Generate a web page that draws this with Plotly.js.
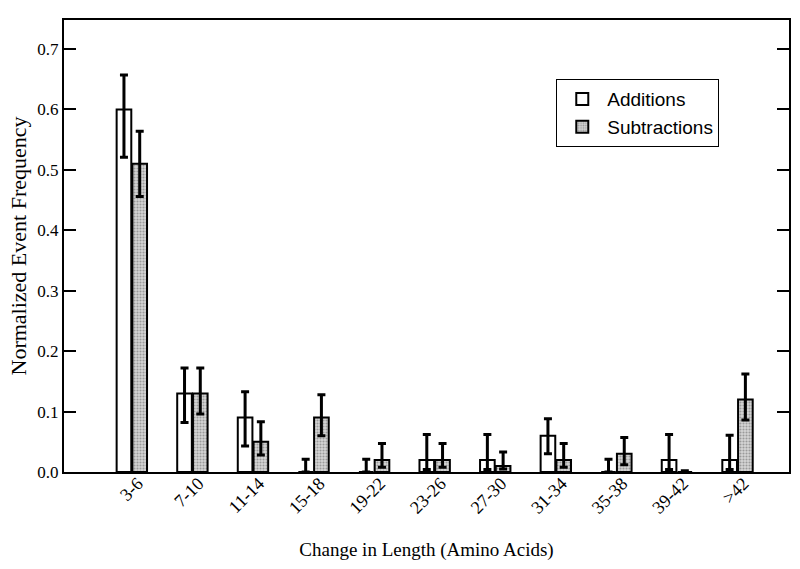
<!DOCTYPE html>
<html>
<head>
<meta charset="utf-8">
<script src="https://cdn.plot.ly/plotly-3.0.1.min.js"></script>
<style>
  html, body { margin: 0; padding: 0; background: #fff; }
  #plot { width: 800px; height: 569px; }
</style>
</head>
<body>
<div id="plot"></div>
<script>
// length change bins
const bins = ['3-6', '7-10', '11-14', '15-18', '19-22', '23-26', '27-30', '31-34', '35-38', '39-42', '>42'];

// additions
const addVals = [0.60, 0.13, 0.09, 0.0, 0.0, 0.02, 0.02, 0.06, 0.0, 0.02, 0.02];
const addErrUp = [0.057, 0.042, 0.043, 0.021, 0.021, 0.042, 0.042, 0.028, 0.021, 0.042, 0.041];
const addErrDown = [0.079, 0.048, 0.047, 0, 0, 0.016, 0.016, 0.03, 0, 0.016, 0.016];

// subtractions
const subVals = [0.51, 0.13, 0.05, 0.09, 0.02, 0.02, 0.01, 0.02, 0.03, 0.0, 0.12];
const subErrUp = [0.054, 0.042, 0.033, 0.038, 0.027, 0.027, 0.023, 0.027, 0.027, 0.002, 0.042];
const subErrDown = [0.054, 0.034, 0.022, 0.03, 0.012, 0.012, 0.005, 0.012, 0.018, 0, 0.034];

const yTicks = [0, 0.1, 0.2, 0.3, 0.4, 0.5, 0.6, 0.7];

const serif = 'Liberation Serif, Times New Roman, serif';

const errStyle = {type: 'data', symmetric: false, color: '#000', thickness: 3, width: 4};

const additions = {
    x: bins,
    y: addVals,
    name: 'Additions',
    type: 'bar',
    marker: {color: '#ffffff', line: {color: '#000', width: 2}},
    error_y: Object.assign({array: addErrUp, arrayminus: addErrDown}, errStyle)
};

const subtractions = {
    x: bins,
    y: subVals,
    name: 'Subtractions',
    type: 'bar',
    marker: {
        color: '#d4d4d4',
        line: {color: '#000', width: 2},
        pattern: {shape: '.', fgcolor: '#9a9a9a', bgcolor: '#d6d6d6', size: 3, solidity: 0.4}
    },
    error_y: Object.assign({array: subErrUp, arrayminus: subErrDown}, errStyle)
};

const layout = {
    width: 800,
    height: 569,
    margin: {l: 64, r: 11, t: 20, b: 97},
    paper_bgcolor: '#fff',
    plot_bgcolor: '#fff',
    barmode: 'group',
    bargap: 0.48,
    bargroupgap: 0.07,
    showlegend: true,
    legend: {
        x: 0.679, y: 0.869, xanchor: 'left', yanchor: 'top',
        bordercolor: '#000', borderwidth: 1, bgcolor: '#fff',
        font: {family: 'Liberation Sans, Arial, sans-serif', size: 19, color: '#000'},
        itemwidth: 40,
        tracegroupgap: 0
    },
    xaxis: {
        type: 'category',
        range: [-1.12, 10.85],
        showline: true, linecolor: '#000', linewidth: 2, mirror: true,
        ticks: '', ticklen: 0, tickangle: -45,
        ticklabelshift: 6,
        ticklabelstandoff: -8,
        tickfont: {family: serif, size: 18, color: '#000'},
        showgrid: false, zeroline: false,
        title: {text: 'Change in Length (Amino Acids)', font: {family: serif, size: 19, color: '#000'}, standoff: 26}
    },
    yaxis: {
        range: [0, 0.748],
        tickvals: yTicks,
        tickformat: '.1f',
        showline: true, linecolor: '#000', linewidth: 2, mirror: 'ticks',
        ticks: 'inside', ticklen: 12, tickwidth: 2, tickcolor: '#000',
        tickfont: {family: serif, size: 17, color: '#000'},
        showgrid: false, zeroline: false,
        title: {text: 'Normalized Event Frequency', font: {family: serif, size: 22, color: '#000'}, standoff: 5}
    }
};

Plotly.newPlot('plot', [additions, subtractions], layout, {displayModeBar: false, staticPlot: true});
</script>
</body>
</html>
